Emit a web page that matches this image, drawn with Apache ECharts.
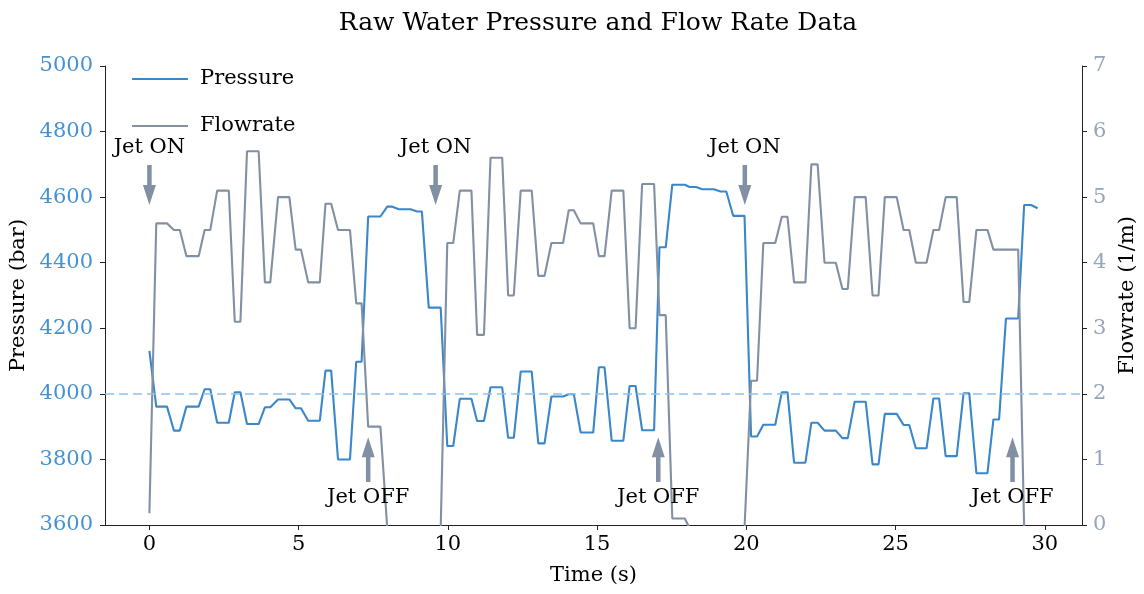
<!DOCTYPE html>
<html><head><meta charset="utf-8">
<script src="https://cdn.jsdelivr.net/npm/echarts@6/dist/echarts.min.js"></script>
<style>html,body{margin:0;padding:0;background:#fff}#chart{width:1144px;height:594px}</style>
</head><body><div id="chart"></div>
<script>
// Vertex times (s) of the recorded samples
const time = [0,
 0.23,0.59, 0.82,1.02, 1.24,1.65, 1.85,2.04, 2.27,2.66, 2.86,3.05, 3.27,3.66, 3.87,4.05,
 4.31,4.69, 4.90,5.08, 5.32,5.71, 5.90,6.09, 6.32,6.72, 6.93,7.11, 7.33,7.74, 7.97,8.14,
 8.36,8.75, 8.97,9.13, 9.36,9.76, 9.98,10.18, 10.40,10.79, 10.98,11.21, 11.43,11.82, 12.02,12.21,
 12.44,12.81, 13.03,13.24, 13.47,13.86, 14.05,14.22, 14.45,14.87, 15.06,15.25, 15.49,15.88,
 16.09,16.29, 16.51,16.91, 17.09,17.30, 17.52,17.94, 18.10,18.32, 18.52,18.91, 19.14,19.33,
 19.56,19.94, 20.16,20.36, 20.57,20.97, 21.19,21.38, 21.60,21.98, 22.18,22.39, 22.62,23.00,
 23.22,23.40, 23.63,24.00, 24.23,24.43, 24.64,25.04, 25.27,25.46, 25.68,26.04, 26.27,26.46,
 26.68,27.05, 27.28,27.47, 27.71,28.08, 28.28,28.47, 28.70,29.11, 29.31,29.54, 29.76];

// Pressure (bar)
const pressure = [4131,
 3961,3961, 3888,3888, 3961,3961, 4014,4014, 3912,3912, 4005,4005, 3908,3908, 3959,3959,
 3983,3983, 3956,3956, 3918,3918, 4071,4071, 3800,3800, 4098,4098, 4541,4541, 4571,4571,
 4563,4563, 4556,4556, 4263,4263, 3841,3841, 3985,3985, 3917,3917, 4020,4020, 3866,3866,
 4068,4068, 3849,3849, 3992,3992, 3999,3999, 3882,3882, 4081,4081, 3857,3857,
 4024,4024, 3889,3889, 4447,4447, 4638,4638, 4631,4631, 4624,4624, 4617,4617,
 4543,4543, 3870,3870, 3906,3906, 4005,4005, 3790,3790, 3912,3912, 3888,3888,
 3865,3865, 3976,3976, 3785,3785, 3939,3939, 3905,3905, 3834,3834, 3986,3986,
 3810,3810, 4002,4002, 3758,3758, 3922,3922, 4230,4230, 4576,4576, 4566];

// Flowrate (l/m); readings below the axis floor are estimated
const flowrate = [0.18,
 4.6,4.6, 4.5,4.5, 4.1,4.1, 4.5,4.5, 5.1,5.1, 3.1,3.1, 5.7,5.7, 3.7,3.7,
 5.0,5.0, 4.2,4.2, 3.7,3.7, 4.9,4.9, 4.5,4.5, 3.38,3.38, 1.5,1.5, -0.05,-0.05,
 -0.05,-0.05, -0.05,-0.05, -0.05,-0.05, 4.3,4.3, 5.1,5.1, 2.9,2.9, 5.6,5.6, 3.5,3.5,
 5.1,5.1, 3.8,3.8, 4.3,4.3, 4.8,4.8, 4.6,4.6, 4.1,4.1, 5.1,5.1,
 3.0,3.0, 5.2,5.2, 3.2,3.2, 0.1,0.1, -0.05,-0.05, -0.05,-0.05, -0.05,-0.05,
 -0.05,-0.05, 2.2,2.2, 4.3,4.3, 4.7,4.7, 3.7,3.7, 5.5,5.5, 4.0,4.0,
 3.6,3.6, 5.0,5.0, 3.5,3.5, 5.0,5.0, 4.5,4.5, 4.0,4.0, 4.5,4.5,
 5.0,5.0, 3.4,3.4, 4.5,4.5, 4.2,4.2, 4.2,4.2, -0.05,-0.05, -0.05];

const xTicks = [0, 5, 10, 15, 20, 25, 30];
const thresholdPressure = 4000;

// Annotations (data coordinates, pressure axis)
const annLabels = ['Jet ON', 'Jet ON', 'Jet ON', 'Jet OFF', 'Jet OFF', 'Jet OFF'];
const annX      = [0, 9.59, 19.95, 7.33, 17.05, 28.92];
const annTip    = [4576, 4576, 4576, 3868, 3868, 3868];
const annTail   = [4698, 4698, 4698, 3731, 3731, 3731];
const annText   = [4752, 4752, 4752, 3685, 3685, 3685];

const FONT = '"DejaVu Serif", "Liberation Serif", serif';
const BLUE = '#3a87c9';
const GREY = '#8190a3';
const plain = v => String(v);

const chart = echarts.init(document.getElementById('chart'), null, {renderer: 'canvas'});
chart.setOption({
  animation: false,
  backgroundColor: '#fff',
  textStyle: {fontFamily: FONT},
  title: {
    text: 'Raw Water Pressure and Flow Rate Data',
    left: 593, top: 6, textAlign: 'center',
    textStyle: {fontFamily: FONT, fontSize: 25, fontWeight: 'normal', color: '#000'}
  },
  grid: {left: 105, right: 62, top: 66, bottom: 69, containLabel: false, outerBoundsMode: 'none'},
  legend: {
    data: ['Pressure', 'Flowrate'],
    orient: 'vertical', left: 127, top: 62,
    icon: 'rect', itemWidth: 56, itemHeight: 2, itemGap: 23,
    textStyle: {fontFamily: FONT, fontSize: 21, color: '#000', lineHeight: 24, padding: [0, 0, 0, 7]}
  },
  xAxis: {
    type: 'value', min: -1.488, max: 31.248,
    name: 'Time (s)', nameLocation: 'middle', nameGap: 40,
    nameTextStyle: {fontFamily: FONT, fontSize: 21, color: '#000'},
    axisLine: {show: true, onZero: false, lineStyle: {color: '#222', width: 1}},
    axisTick: {show: true, length: 5, inside: false, customValues: xTicks, lineStyle: {color: '#222'}},
    axisLabel: {customValues: xTicks, margin: 9, fontFamily: FONT, fontSize: 21, color: '#000', formatter: plain},
    splitLine: {show: false}
  },
  yAxis: [{
    type: 'value', min: 3600, max: 5000, interval: 200, position: 'left',
    name: 'Pressure (bar)', nameLocation: 'middle', nameGap: 72, nameRotate: 90,
    nameTextStyle: {fontFamily: FONT, fontSize: 21, color: '#000'},
    axisLine: {show: true, onZero: false, lineStyle: {color: '#222', width: 1}},
    axisTick: {show: true, length: 5, lineStyle: {color: '#222'}},
    axisLabel: {margin: 12, fontFamily: FONT, fontSize: 21, color: '#4592d3', formatter: plain},
    splitLine: {show: false}
  }, {
    type: 'value', min: 0, max: 7, interval: 1, position: 'right',
    name: 'Flowrate (1/m)', nameLocation: 'middle', nameGap: 32, nameRotate: 90,
    nameTextStyle: {fontFamily: FONT, fontSize: 21, color: '#000'},
    axisLine: {show: true, onZero: false, lineStyle: {color: '#222', width: 1}},
    axisTick: {show: true, length: 5, lineStyle: {color: '#222'}},
    axisLabel: {margin: 11, fontFamily: FONT, fontSize: 21, color: '#97a5b8', formatter: plain},
    splitLine: {show: false}
  }],
  series: [{
    name: 'Pressure', type: 'line', yAxisIndex: 0, showSymbol: false, symbol: 'none', clip: true,
    data: time.map((t, i) => [t, pressure[i]]),
    itemStyle: {color: BLUE}, lineStyle: {color: BLUE, width: 2.1}, z: 2,
    markLine: {
      silent: true, symbol: ['none', 'none'], label: {show: false},
      lineStyle: {color: '#93bfe6', width: 1.6, type: [9, 5]},
      data: [{yAxis: thresholdPressure}]
    }
  }, {
    name: 'Flowrate', type: 'line', yAxisIndex: 1, showSymbol: false, symbol: 'none', clip: true,
    data: time.map((t, i) => [t, flowrate[i]]),
    itemStyle: {color: GREY}, lineStyle: {color: GREY, width: 2.1}, z: 3
  }, {
    name: 'annotations', type: 'custom', yAxisIndex: 0, z: 5, silent: true,
    data: annX.map((x, i) => [x, annTip[i], annTail[i], annText[i]]),
    encode: {x: 0, y: [1, 2, 3]},
    renderItem: function (params, api) {
      const i = params.dataIndex;
      const tip = api.coord([api.value(0), api.value(1)]);
      const tail = api.coord([api.value(0), api.value(2)]);
      const txt = api.coord([api.value(0), api.value(3)]);
      const dir = tip[1] > tail[1] ? 1 : -1;
      const headLen = 20, headW = 13, shaftW = 4.5;
      const x = tip[0];
      const baseY = tip[1] - dir * headLen;
      return {
        type: 'group',
        children: [{
          type: 'polygon',
          shape: {points: [
            [x - shaftW / 2, tail[1]], [x + shaftW / 2, tail[1]], [x + shaftW / 2, baseY],
            [x + headW / 2, baseY], [x, tip[1]], [x - headW / 2, baseY], [x - shaftW / 2, baseY]
          ]},
          style: {fill: GREY}
        }, {
          type: 'text',
          style: {text: annLabels[i], x: txt[0], y: txt[1], align: 'center', verticalAlign: 'middle',
                  textAlign: 'center', textVerticalAlign: 'middle',
                  font: '21px ' + FONT, fill: '#000'}
        }]
      };
    }
  }]
});
</script></body></html>
